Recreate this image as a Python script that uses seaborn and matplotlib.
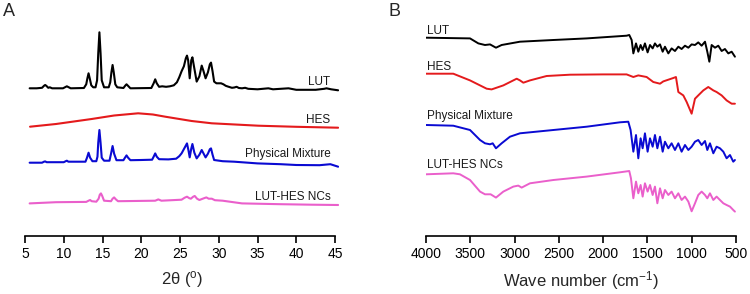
import numpy as np
import pandas as pd
import matplotlib
matplotlib.use("Agg")
import matplotlib.pyplot as plt
import seaborn as sns

sns.set_theme(style="white")
plt.rcParams['font.family'] = ['Liberation Sans', 'DejaVu Sans']
plt.rcParams['mathtext.fontset'] = 'custom'
plt.rcParams['mathtext.rm'] = 'Liberation Sans'
plt.rcParams['mathtext.it'] = 'Liberation Sans:italic'

# ---------------- Panel A: XRD (2theta, relative intensity a.u.) ----------------
xrd_lut_x = [5.6, 6.5, 7.2, 7.45, 7.6, 7.75, 8.0, 8.2, 8.5, 9.9, 10.2, 10.4, 10.6, 10.9, 12.6, 12.9,
             13.05, 13.2, 13.35, 13.55, 13.8, 14.1, 14.3, 14.45, 14.6, 14.75, 14.9, 15.2, 15.8, 16.0,
             16.15, 16.3, 16.45, 16.65, 16.9, 17.7, 17.95, 18.1, 18.25, 18.6, 21.3, 21.6, 21.8, 22.0,
             22.3, 22.7, 23.2, 23.7, 24.2, 24.6, 24.9, 25.2, 25.5, 25.75, 25.9, 26.05, 26.25, 26.45,
             26.6, 26.8, 27.15, 27.5, 27.8, 28.0, 28.3, 28.6, 28.85, 29.0, 29.2, 29.4, 29.7, 29.95,
             30.3, 30.6, 30.9, 31.2, 31.7, 32.0, 32.3, 32.6, 33.0, 33.4, 33.8, 35.0, 36.4, 37.0, 38.0,
             39.0, 40.0, 41.5, 42.5, 43.6, 43.9, 44.2, 44.5, 45.4]
xrd_lut_y = [0, 0, 0.5, 2.5, 3.3, 2.5, 0.5, 1, 0, 0, 1.2, 2, 1.2, 0, 0.3, 4,
             10, 15, 10, 3, 1, 1, 8, 35, 56, 35, 8, 1, 1, 6,
             16, 23.3, 16, 4, 1, 0.3, 2.8, 4, 2.8, 0, 0.3, 5, 9, 5,
             1.5, 2, 1.5, 2, 3, 6, 11, 17, 22, 30, 32.7, 28, 10, 28,
             31, 22, 6.7, 12, 22.7, 18, 10, 16, 24, 25.7, 17, 6.7, 5, 5,
             5, 4, 2.5, 1.7, 0.5, 0.8, 1.5, 0.3, 0, 0.5, -0.5, -1, 0, -1, -0.5,
             0, -1.5, -1.5, -1.5, -0.5, 0, -0.5, -1, -2]

xrd_hes_x = [5.65, 9.0, 13.6, 16.5, 19.6, 21.5, 23.1, 26.5, 29.1, 35.1, 40.0, 45.4]
xrd_hes_y = [1.3, 4, 9, 12.5, 14.7, 13.5, 11.3, 7, 4.7, 2.3, 1.2, 0.3]

xrd_pm_x = [5.6, 7.2, 7.45, 7.6, 7.8, 10.0, 10.25, 10.4, 10.6, 12.8, 13.0, 13.2, 13.4, 13.7, 14.2,
            14.35, 14.45, 14.6, 14.75, 14.9, 15.2, 15.9, 16.1, 16.3, 16.5, 16.8, 17.7, 17.9, 18.1,
            18.3, 18.6, 20.0, 21.4, 21.6, 21.8, 22.0, 22.3, 23.5, 24.5, 24.9, 25.2, 25.6, 25.9,
            26.1, 26.25, 26.45, 26.6, 26.85, 27.15, 27.5, 27.8, 28.05, 28.3, 28.6, 28.85, 29.0,
            29.2, 29.4, 30.5, 32.0, 35.0, 38.0, 40.0, 43.0, 44.4, 45.4]
xrd_pm_y = [0, 0, 1, 1.3, 0.5, 0.5, 1.5, 2, 1, 1, 5, 10, 5, 1.5, 1.5,
            6, 20, 32.7, 20, 5, 2, 2, 9, 16.7, 9, 2.5, 2.5, 5, 7.3,
            5, 2.5, 2.7, 3, 6, 9.3, 6, 3.5, 3.3, 4, 6.5, 9.3, 15, 19.3,
            12, 5.3, 14, 18.7, 10, 4.3, 8, 12.7, 9, 5.3, 9, 13.5, 14.3,
            8, 2.7, 1.5, 1, -0.7, -1.5, -2.3, -2.5, -1.5, -4]

xrd_nc_x = [5.6, 9.0, 12.9, 13.2, 13.4, 13.6, 14.2, 14.5, 14.65, 14.8, 14.95, 15.2, 16.1, 16.3, 16.5,
            16.7, 17.0, 19.0, 21.8, 22.2, 22.6, 25.2, 25.6, 25.9, 26.2, 26.4, 26.7, 26.9, 27.2, 27.5,
            28.1, 28.4, 28.7, 29.1, 29.5, 30.5, 33.0, 38.0, 42.0, 45.4]
xrd_nc_y = [-0.7, 0.5, 0.8, 2, 2.7, 1.5, 1, 4, 8, 9.3, 7, 2, 1.5, 4, 5.3,
            3.5, 1.5, 1.7, 2, 3.3, 2, 3, 5, 6, 4.5, 4, 6, 6.7, 4, 2.7,
            4.5, 5.3, 4, 4, 2.5, 2, -0.7, -1.5, -2, -2.3]

xrd_series = ["LUT", "HES", "Physical Mixture", "LUT-HES NCs"]

# ---------------- Panel B: FTIR (wavenumber, relative transmittance a.u.) ----------------
ir_lut_x = [4000, 3503, 3409, 3334, 3277, 3210, 3146, 2939, 2562, 2186, 1735, 1705, 1678, 1659, 1629,
            1603, 1577, 1554, 1528, 1498, 1471, 1441, 1415, 1388, 1358, 1328, 1302, 1264, 1227, 1189,
            1151, 1114, 1076, 1038, 1001, 963, 926, 888, 850, 824, 801, 775, 737, 700, 662, 625, 587,
            549, 512]
ir_lut_y = [0, -0.7, -5.7, -7.3, -6.7, -10, -7.3, -4, -2.3, -0.7, 2, 2.7, -2.3, -15.7, -5.7,
            -14, -7.3, -12.3, -5.7, -14.7, -7.3, -10.7, -5.7, -9, -6.7, -14, -9, -15.7, -10.7, -13.3,
            -9, -11.3, -8, -10, -6.7, -7.3, -4.7, -8, -4, -14, -24, -7.3, -10, -8, -13.3, -11.3, -15.7,
            -14, -19]

ir_hes_x = [4000, 3692, 3503, 3315, 3259, 3127, 2976, 2939, 2901, 2826, 2638, 2374, 1998, 1735, 1659,
            1603, 1509, 1434, 1358, 1321, 1208, 1178, 1151, 1095, 1057, 1001, 963, 926, 869, 813, 756,
            719, 662, 606, 549, 512]
ir_hes_y = [0, 0, -6.7, -15, -15.7, -11.7, -5, -6.7, -9, -6.7, -2.3, -1, -0.7, -0.7, -3.3,
            -1.7, -3.3, -8.3, -10, -7.7, -4.3, -3.3, -18.3, -21.7, -28.3, -40, -25, -21.7, -16.7, -13.3, -16.7,
            -18.3, -21.7, -26.7, -30, -30]

ir_pm_x = [4000, 3692, 3503, 3390, 3334, 3277, 3247, 3210, 3146, 3052, 2939, 2562, 2186, 1810, 1716,
           1690, 1659, 1629, 1603, 1577, 1554, 1528, 1498, 1471, 1441, 1415, 1388, 1358, 1328, 1302,
           1264, 1227, 1189, 1151, 1114, 1076, 1038, 1001, 963, 926, 888, 850, 824, 794, 756, 719,
           681, 643, 606, 568, 531, 512]
ir_pm_y = [0, -0.7, -5, -15, -18.3, -19.3, -18.3, -23.3, -18.3, -11.7, -8.3, -5, -1.7, 2.7, 3.3,
           -5, -26.7, -10, -33.3, -13.3, -23.3, -8.3, -26.7, -13.3, -21.7, -10, -23.3, -11.7, -26.7, -16.7,
           -23.3, -18.3, -25, -18.3, -26.7, -20, -25, -21.7, -16.7, -15, -20, -16, -25, -18.3, -28.3,
           -21.7, -23.3, -26.7, -33.3, -30, -36.7, -35]

ir_nc_x = [4000, 3692, 3617, 3503, 3390, 3334, 3270, 3210, 3127, 3014, 2958, 2920, 2826, 2562, 2186,
           1810, 1705, 1686, 1659, 1629, 1603, 1577, 1554, 1528, 1498, 1471, 1441, 1415, 1388, 1358,
           1328, 1302, 1264, 1227, 1189, 1151, 1114, 1076, 1038, 1001, 963, 926, 888, 850, 824, 794,
           756, 719, 681, 643, 606, 568, 531, 512]
ir_nc_y = [0, 1, 0, -5.7, -17.3, -20, -20, -23.3, -17.3, -12.3, -11.3, -13.3, -9, -5.7, -2.3,
           2, 3.3, -4, -24, -7.3, -19, -10.7, -22.3, -9, -17.3, -10.7, -20.7, -12.3, -29, -14,
           -24, -15.7, -20.7, -17.3, -24, -19, -25.7, -22.3, -27.3, -37, -29, -20.7, -17.3, -20.7, -24, -19,
           -25.7, -22.3, -25.7, -29, -30.7, -32.3, -35.7, -37.3]

ir_series = ["LUT", "HES", "Physical Mixture", "LUT-HES NCs"]

colors = ["#000000", "#e41a1c", "#0a0ad2", "#ea5fcb"]

xrd_data = [(xrd_lut_x, xrd_lut_y), (xrd_hes_x, xrd_hes_y), (xrd_pm_x, xrd_pm_y), (xrd_nc_x, xrd_nc_y)]
xrd_offsets = [147.7, 108.0, 73.3, 33.3]
ir_data = [(ir_lut_x, ir_lut_y), (ir_hes_x, ir_hes_y), (ir_pm_x, ir_pm_y), (ir_nc_x, ir_nc_y)]
ir_offsets = [198.3, 162.3, 111.0, 61.7]

W, H = 750, 294
fig = plt.figure(figsize=(7.5, 2.94), dpi=100)
axA = fig.add_axes([25 / W, (H - 236) / H, 313.9 / W, 216 / H])
axB = fig.add_axes([426 / W, (H - 236) / H, 310 / W, 216 / H])

lw = 1.5
for (xs, ys), off, c, name in zip(xrd_data, xrd_offsets, colors, xrd_series):
    df = pd.DataFrame({"x": xs, "y": np.asarray(ys) + off})
    sns.lineplot(data=df, x="x", y="y", ax=axA, color=c, lw=lw, sort=False, estimator=None)

for (xs, ys), off, c, name in zip(ir_data, ir_offsets, colors, ir_series):
    df = pd.DataFrame({"x": xs, "y": np.asarray(ys) + off})
    sns.lineplot(data=df, x="x", y="y", ax=axB, color=c, lw=1.4, sort=False, estimator=None)

# labels for panel A (right aligned)
xrd_label_y = [154, 116, 82, 39]
for name, yy in zip(xrd_series, xrd_label_y):
    axA.text(44.4, yy, name, ha="right", va="center", fontsize=8.5, color="#1a1a1a")

ir_label_y = [204.5, 169, 120, 71]
for name, yy in zip(ir_series, ir_label_y):
    axB.text(3985, yy, name, ha="left", va="center", fontsize=8.5, color="#1a1a1a")

axA.set_xlim(5, 45.5)
axA.set_ylim(0, 216)
axA.spines['bottom'].set_bounds(5, 45)
axA.set_xticks(np.arange(5, 46, 5))
axA.set_xlabel("2θ ($^{\\mathrm{o}}$)", fontsize=12, labelpad=6)

axB.set_xlim(4000, 500)
axB.set_ylim(0, 216)
axB.set_xticks(np.arange(4000, 499, -500))
axB.set_xlabel("Wave number (cm$^{-1}$)", fontsize=12, labelpad=6)

for ax in (axA, axB):
    ax.set_ylabel("")
    ax.set_yticks([])
    for s in ("left", "top", "right"):
        ax.spines[s].set_visible(False)
    ax.spines['bottom'].set_color("black")
    ax.spines['bottom'].set_linewidth(1.2)
    ax.tick_params(axis="x", bottom=True, direction="out", length=5, width=1.2,
                   color="black", labelsize=10, pad=3, labelcolor="black")
    ax.set_facecolor("none")

fig.text(3 / W, 1 - 11 / H, "A", fontsize=13, va="center", ha="left")
fig.text(388 / W, 1 - 11 / H, "B", fontsize=13, va="center", ha="left")

fig.savefig("out.png", dpi=100)
